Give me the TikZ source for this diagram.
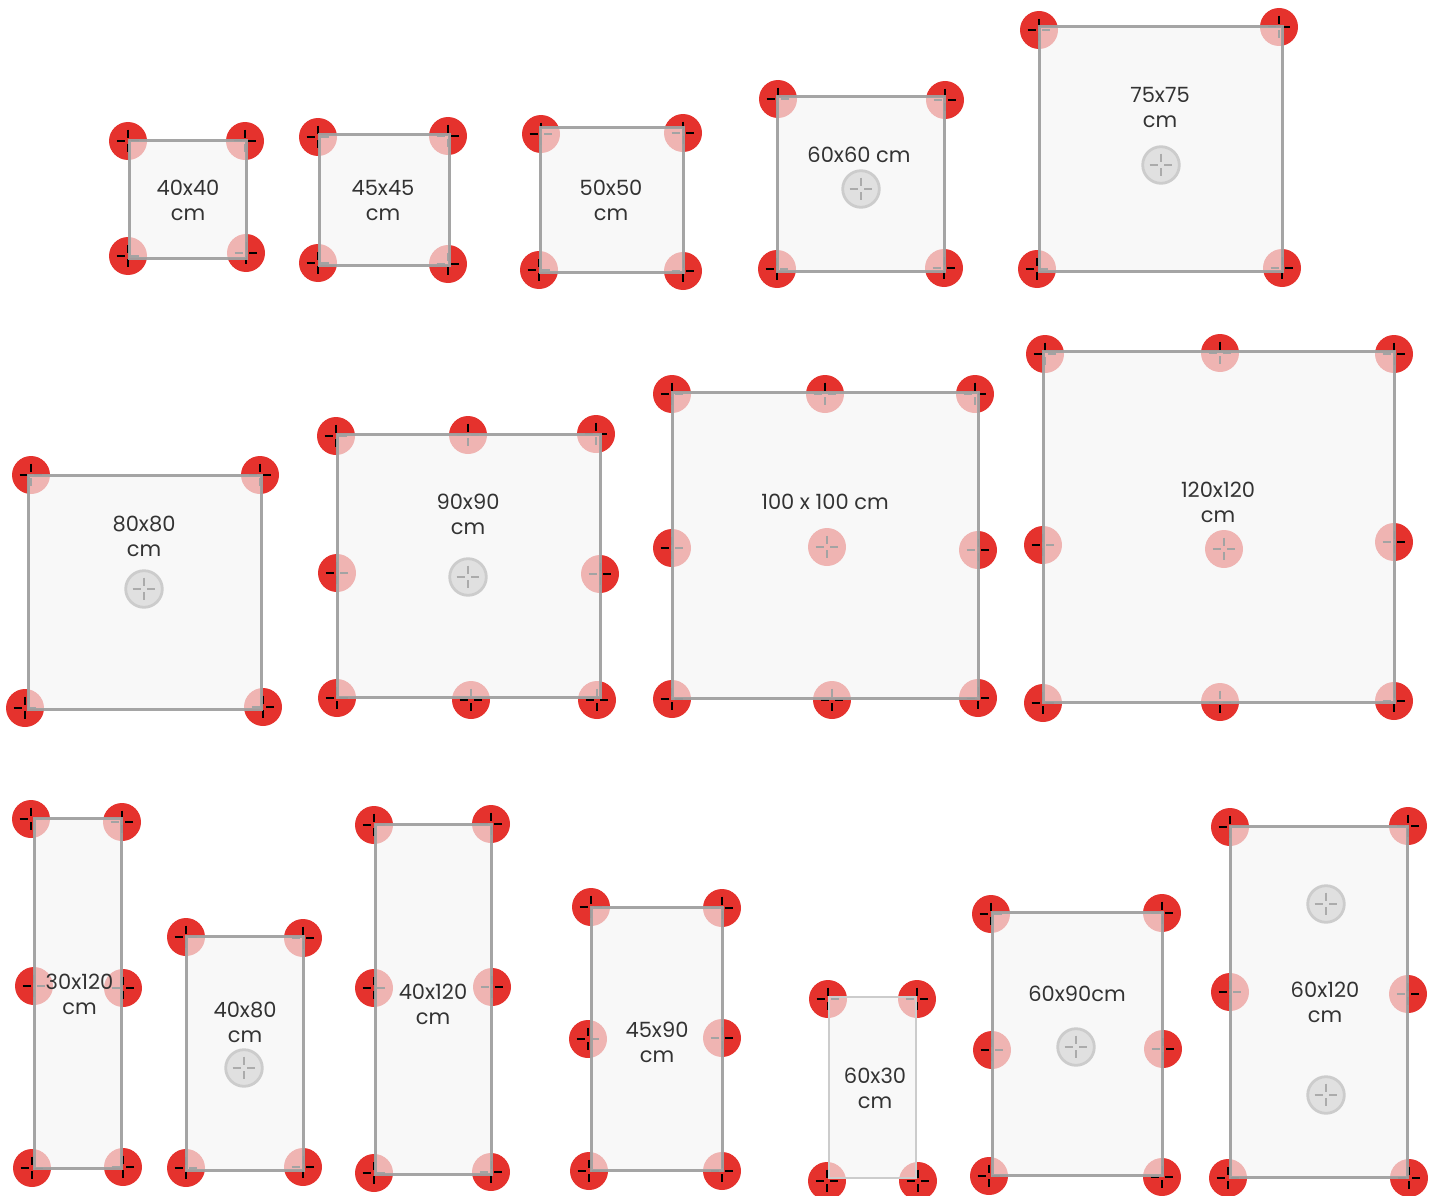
\documentclass[tikz,border=0pt]{standalone}
\usepackage{fontspec}
\setmainfont{Poppins}
\definecolor{scr}{HTML}{E5322D}
\definecolor{pfill}{HTML}{F5F5F5}
\definecolor{pline}{HTML}{A0A0A0}
\definecolor{gfill}{HTML}{E0E0E0}
\definecolor{gline}{HTML}{CCCCCC}
\definecolor{gcross}{HTML}{ABABAB}
\definecolor{txt}{HTML}{333333}
\tikzset{
 redbody/.style={fill=scr,draw=none},
 redcross/.style={draw=black,line width=2.9pt},
 graybody/.style={fill=gfill,draw=gline,line width=2.8pt},
 graycross/.style={draw=gcross,line width=2.9pt},
 panel/.style={fill=pfill,fill opacity=.667,draw=pline,draw opacity=.95,line width=3pt},
 lightpanel/.style={fill=pfill,fill opacity=.667,draw=gline,line width=1.3pt},
 lab/.style={text=txt,font=\fontsize{21}{25}\selectfont,align=center,inner sep=0pt}
}
\newcommand{\crossat}[3]{%
 \draw[#3] (#1-11.3,#2)--(#1-3,#2) (#1+3,#2)--(#1+11.3,#2) (#1,#2-11.3)--(#1,#2-3) (#1,#2+3)--(#1,#2+11.3);}
\newcommand{\redscrews}[1]{\foreach \sx/\sy in {#1}{\fill[redbody] (\sx,\sy) circle (19);\crossat{\sx}{\sy}{redcross}}}
\newcommand{\grayscrews}[1]{\foreach \sx/\sy in {#1}{\path[graybody] (\sx,\sy) circle (18.3);\crossat{\sx}{\sy}{graycross}}}
\begin{document}
\begin{tikzpicture}[x=1pt,y=-1pt]
\useasboundingbox (0,0) rectangle (1437,1196);
% row 1
\redscrews{128/141,245/141,128/256,246/253}
\draw[panel] (129,141) rectangle (246,258);
\node[lab] (a1) at (188,200.5) {40x40\\cm};
\redscrews{318/137,448/136,318/263,448/264}
\draw[panel] (319,135) rectangle (449,265);
\node[lab] (a2) at (383,200.5) {45x45\\cm};
\redscrews{541/134,683/133,539/270,683/271}
\draw[panel] (540,128) rectangle (683,272);
\node[lab] (a3) at (611,200.5) {50x50\\cm};
\redscrews{778/99,945/100,777/269,944/268}
\draw[panel] (777,97) rectangle (944,271);
\grayscrews{861/189}
\node[lab] (a4) at (859,154.5) {60x60 cm};
\redscrews{1039/30,1279/27,1037/269,1282/268}
\draw[panel] (1039,27) rectangle (1282,271);
\grayscrews{1161/165}
\node[lab] (a5) at (1160,107.5) {75x75\\cm};
% row 2
\redscrews{31/475,260/475,25/708,263/707}
\draw[panel] (28,475) rectangle (261,709);
\grayscrews{144/589}
\node[lab] (b1) at (144,536.5) {80x80\\cm};
\redscrews{336/436,468/435,596/434,337/573,600/574,337/698,471/700,597/700}
\draw[panel] (337,434) rectangle (600,697);
\grayscrews{468/577}
\node[lab] (b2) at (468,514.5) {90x90\\cm};
\redscrews{672/394,825/394,975/394,672/548,978/550,672/699,832/700,978/698,827/547}
\draw[panel] (672,392) rectangle (978,698);
\node[lab] (b3) at (825,501.5) {100 x 100 cm};
\redscrews{1045/354,1220/353,1394/354,1043/545,1394/542,1043/703,1220/702,1394/701,1224/549}
\draw[panel] (1043,351) rectangle (1394,702);
\node[lab] (b4) at (1218,502.5) {120x120\\cm};
% row 3
\redscrews{31/819,122/822,34/986,123/988,32/1168,123/1167}
\draw[panel] (34,818) rectangle (121,1168);
\node[lab] (c1) at (79.5,994.5) {30x120\\cm};
\redscrews{186/937,303/938,186/1168,303/1167}
\draw[panel] (186,936) rectangle (303,1170);
\grayscrews{244/1068}
\node[lab] (c2) at (245,1022) {40x80\\cm};
\redscrews{374/825,491/824,374/988,492/987,374/1173,491/1172}
\draw[panel] (375,824) rectangle (491,1174);
\node[lab] (c3) at (433,1004.5) {40x120\\cm};
\redscrews{591/907,722/908,588/1039,722/1038,589/1171,722/1171}
\draw[panel] (591,907) rectangle (722,1170);
\node[lab] (c4) at (657,1042.5) {45x90\\cm};
\redscrews{828/999,917/999,827/1181,918/1181}
\draw[lightpanel] (829,997) rectangle (916,1178);
\node[lab] (c5) at (875,1088.5) {60x30\\cm};
\redscrews{991/914,1162/913,992/1050,1163/1049,989/1176,1162/1177}
\draw[panel] (992,912) rectangle (1162,1175);
\grayscrews{1076/1047}
\node[lab] (c6) at (1077,993.5) {60x90cm};
\redscrews{1230/827,1408/826,1230/992,1408/994,1228/1178,1409/1178}
\draw[panel] (1230,826) rectangle (1407,1177);
\grayscrews{1326/904,1326/1095}
\node[lab] (c7) at (1325,1002.5) {60x120\\cm};
\end{tikzpicture}
\end{document}
